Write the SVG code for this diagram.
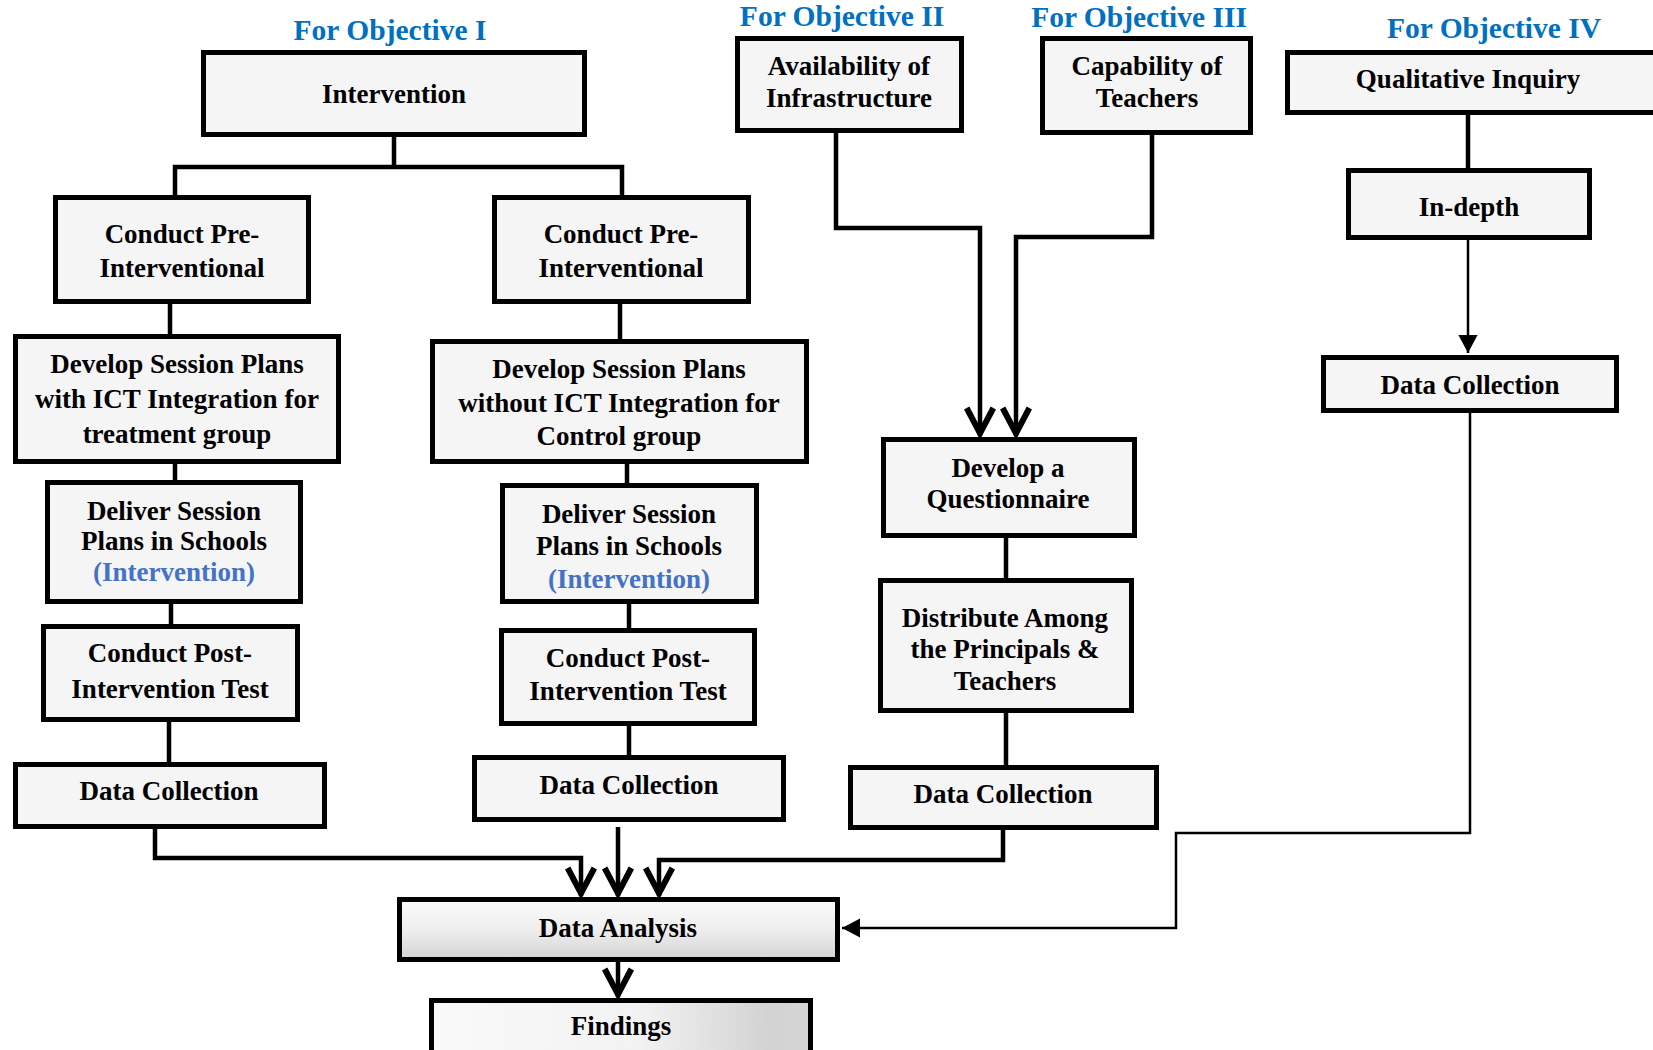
<svg xmlns="http://www.w3.org/2000/svg" width="1653" height="1050" viewBox="0 0 1653 1050">
<style>
.box{fill:#f5f5f5;stroke:#000;stroke-width:5}
.t{font-family:"Liberation Serif","Times New Roman",serif;font-weight:bold;font-size:27px;fill:#000;text-anchor:middle}
.blue{fill:#4472C4}
.title{font-family:"Liberation Serif","Times New Roman",serif;font-weight:bold;font-size:29.5px;fill:#0070C0;text-anchor:middle}
.c{fill:none;stroke:#000;stroke-width:4.5}
.thin{fill:none;stroke:#000;stroke-width:2.5}
</style>
<defs>
<marker id="vee" markerUnits="userSpaceOnUse" markerWidth="40" markerHeight="40" viewBox="-25 -15 30 30" refX="0" refY="0" orient="auto" overflow="visible">
<path d="M-21,-10 L-2,0 L-21,10" fill="none" stroke="#000" stroke-width="4.5"/>
</marker>
<marker id="tri" markerUnits="userSpaceOnUse" markerWidth="30" markerHeight="30" viewBox="-20 -10 25 20" refX="0" refY="0" orient="auto" overflow="visible">
<path d="M-15,-8 L0,0 L-15,8 Z" fill="#000"/>
</marker>
<linearGradient id="gv" x1="0" y1="0" x2="0" y2="1">
<stop offset="0" stop-color="#fbfbfb"/><stop offset="0.5" stop-color="#eeeeee"/><stop offset="1" stop-color="#d4d4d4"/>
</linearGradient>
<linearGradient id="gh" x1="0" y1="0" x2="1" y2="0">
<stop offset="0" stop-color="#fafafa"/><stop offset="0.55" stop-color="#f2f2f2"/><stop offset="0.9" stop-color="#d2d2d2"/><stop offset="1" stop-color="#d6d6d6"/>
</linearGradient>
</defs>

<g id="titles">
<text class="title" x="390" y="40">For Objective I</text>
<text class="title" x="842" y="26">For Objective II</text>
<text class="title" x="1139" y="27">For Objective III</text>
<text class="title" x="1494" y="38">For Objective IV</text>
</g>

<g id="connectors">
<path class="c" d="M394 137 V167"/>
<path class="c" d="M175 195 V167 H622 V195"/>
<path class="c" d="M170 304 V334"/>
<path class="c" d="M175 464 V480"/>
<path class="c" d="M171 604 V624"/>
<path class="c" d="M169 722 V762"/>
<path class="c" d="M620 304 V339"/>
<path class="c" d="M627 464 V483"/>
<path class="c" d="M629 604 V628"/>
<path class="c" d="M629 726 V755"/>
<path class="c" d="M1006 538 V578"/>
<path class="c" d="M1006 713 V765"/>
<path class="c" d="M1468 115 V168"/>
<path class="thin" d="M1468 240 V353" marker-end="url(#tri)"/>
<path class="thin" d="M1470 413 V833 H1176 V928 H842" marker-end="url(#tri)"/>
<path class="c" d="M836 133 V228 H980 V436" marker-end="url(#vee)"/>
<path class="c" d="M1152 135 V237 H1016 V436" marker-end="url(#vee)"/>
<path class="c" d="M155 829 V858 H581 V896" marker-end="url(#vee)"/>
<path class="c" d="M618 827 V896" marker-end="url(#vee)"/>
<path class="c" d="M1003 830 V860 H659 V896" marker-end="url(#vee)"/>
<path class="c" d="M618 962 V997" marker-end="url(#vee)"/>
</g>

<g id="n-intervention"><rect class="box" x="203.5" y="52.5" width="381" height="82"/><text class="t" x="394" y="103">Intervention</text></g>
<g id="n-pre-left"><rect class="box" x="55.5" y="197.5" width="253" height="104"/><text class="t" x="182" y="243">Conduct Pre-</text><text class="t" x="182" y="277">Interventional</text></g>
<g id="n-pre-right"><rect class="box" x="494.5" y="197.5" width="254" height="104"/><text class="t" x="621" y="243">Conduct Pre-</text><text class="t" x="621" y="277">Interventional</text></g>
<g id="n-dev-left"><rect class="box" x="15.5" y="336.5" width="323" height="125"/><text class="t" x="177" y="373">Develop Session Plans</text><text class="t" x="177" y="408">with ICT Integration for</text><text class="t" x="177" y="443">treatment group</text></g>
<g id="n-dev-right"><rect class="box" x="432.5" y="341.5" width="374" height="120"/><text class="t" x="619" y="378">Develop Session Plans</text><text class="t" x="619" y="412">without ICT Integration for</text><text class="t" x="619" y="445">Control group</text></g>
<g id="n-deliver-left"><rect class="box" x="47.5" y="482.5" width="253" height="119"/><text class="t" x="174" y="520">Deliver Session</text><text class="t" x="174" y="550">Plans in Schools</text><text class="t blue" x="174" y="581">(Intervention)</text></g>
<g id="n-deliver-right"><rect class="box" x="502.5" y="485.5" width="254" height="116"/><text class="t" x="629" y="523">Deliver Session</text><text class="t" x="629" y="555">Plans in Schools</text><text class="t blue" x="629" y="588">(Intervention)</text></g>
<g id="n-post-left"><rect class="box" x="43.5" y="626.5" width="254" height="93"/><text class="t" x="170" y="662">Conduct Post-</text><text class="t" x="170" y="698">Intervention Test</text></g>
<g id="n-post-right"><rect class="box" x="501.5" y="630.5" width="253" height="93"/><text class="t" x="628" y="667">Conduct Post-</text><text class="t" x="628" y="700">Intervention Test</text></g>
<g id="n-dc-left"><rect class="box" x="15.5" y="764.5" width="309" height="62"/><text class="t" x="169" y="800">Data Collection</text></g>
<g id="n-dc-mid"><rect class="box" x="474.5" y="757.5" width="309" height="62"/><text class="t" x="629" y="794">Data Collection</text></g>
<g id="n-analysis"><rect class="box" x="399.5" y="899.5" width="438" height="60" style="fill:url(#gv)"/><text class="t" x="618" y="937">Data Analysis</text></g>
<g id="n-findings"><rect class="box" x="431.5" y="1000.5" width="379" height="60" style="fill:url(#gh)"/><text class="t" x="621" y="1035">Findings</text></g>
<g id="n-availability"><rect class="box" x="737.5" y="38.5" width="224" height="92"/><text class="t" x="849" y="75">Availability of</text><text class="t" x="849" y="107">Infrastructure</text></g>
<g id="n-capability"><rect class="box" x="1042.5" y="38.5" width="208" height="94"/><text class="t" x="1147" y="75">Capability of</text><text class="t" x="1147" y="107">Teachers</text></g>
<g id="n-qualitative"><rect class="box" x="1287.5" y="52.5" width="380" height="60"/><text class="t" x="1468" y="88">Qualitative Inquiry</text></g>
<g id="n-indepth"><rect class="box" x="1348.5" y="170.5" width="241" height="67"/><text class="t" x="1469" y="216">In-depth</text></g>
<g id="n-dc-right"><rect class="box" x="1323.5" y="357.5" width="293" height="53"/><text class="t" x="1470" y="394">Data Collection</text></g>
<g id="n-questionnaire"><rect class="box" x="883.5" y="439.5" width="251" height="96"/><text class="t" x="1008" y="477">Develop a</text><text class="t" x="1008" y="508">Questionnaire</text></g>
<g id="n-distribute"><rect class="box" x="880.5" y="580.5" width="251" height="130"/><text class="t" x="1005" y="627">Distribute Among</text><text class="t" x="1005" y="658">the Principals &amp;</text><text class="t" x="1005" y="690">Teachers</text></g>
<g id="n-dc-rmid"><rect class="box" x="850.5" y="767.5" width="306" height="60"/><text class="t" x="1003" y="803">Data Collection</text></g>
</svg>
